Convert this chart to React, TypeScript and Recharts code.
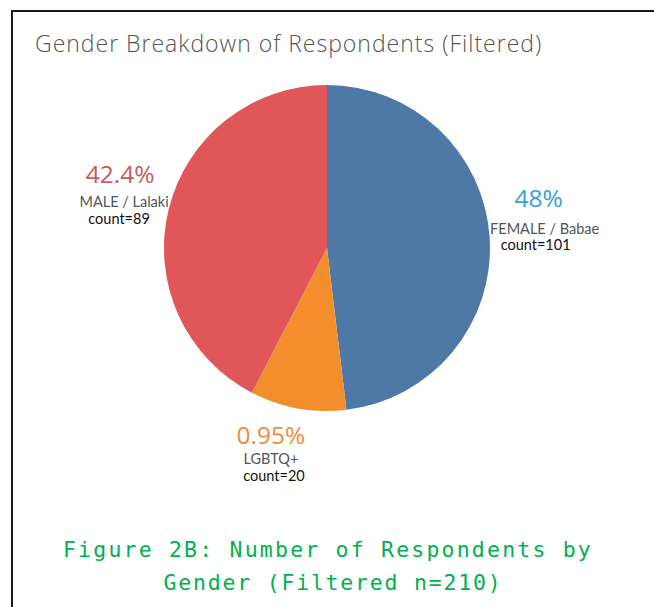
import React from 'react';
import { PieChart, Pie, Cell } from 'recharts';

// ---- data ----
const categories = ['FEMALE / Babae', 'LGBTQ+', 'MALE / Lalaki'];
const counts = [101, 20, 89];
const percentLabels = ['48%', '0.95%', '42.4%'];

// ---- styles / layout ----
const sliceColors = ['#4e79a7', '#f28e2b', '#e15759'];
const percentColors = ['#3a9ed8', '#ef8b3d', '#c75a5a'];
const labelLayout = [
  { dx: -1, dy: -16, nameDx: 6, countDx: -3, gap1: 27, gap2: 16 },
  { dx: -18, dy: -2, nameDx: 0, countDx: 3, gap1: 20.5, gap2: 16.5 },
  { dx: 0, dy: -3, nameDx: 4, countDx: -1, gap1: 24, gap2: 17 },
];

const data = categories.map((name, i) => ({ name, value: counts[i], pct: percentLabels[i] }));

if (typeof document !== 'undefined') {
  document.body.style.margin = '0';
}

const RADIAN = Math.PI / 180;

const renderLabel = (props: any) => {
  const { cx, cy, midAngle, outerRadius, index } = props;
  const r = outerRadius + 50;
  const L = labelLayout[index];
  const x = cx + r * Math.cos(-midAngle * RADIAN) + L.dx;
  const y = cy + r * Math.sin(-midAngle * RADIAN) + L.dy;
  const d = data[index];
  const b0 = y - 12;
  const b1 = b0 + L.gap1;
  const b2 = b1 + L.gap2;
  return (
    <g>
      <text x={x} y={b0} textAnchor="middle" fontFamily="'Open Sans', sans-serif" fontSize={24.5} fill={percentColors[index]}>
        {d.pct}
      </text>
      <text x={x + L.nameDx} y={b1} textAnchor="middle" fontFamily="Lato, sans-serif" fontSize={14.5} fill="#555">
        {d.name}
      </text>
      <text x={x + L.countDx} y={b2} textAnchor="middle" fontFamily="Lato, sans-serif" fontSize={14.5} fill="#111">
        {'count=' + d.value}
      </text>
    </g>
  );
};

export default function App() {
  return (
    <div style={{ position: 'relative', width: 654, height: 607, background: '#fff', overflow: 'hidden' }}>
      <div style={{ position: 'absolute', left: 0, top: 0 }}>
        <PieChart width={654} height={607} margin={{ top: 0, right: 0, bottom: 0, left: 0 }}>
          <Pie
            data={data}
            dataKey="value"
            nameKey="name"
            cx={327}
            cy={248}
            outerRadius={163}
            startAngle={90}
            endAngle={-270}
            stroke="none"
            label={renderLabel}
            labelLine={false}
            isAnimationActive={false}
          >
            {data.map((d, i) => (
              <Cell key={d.name} fill={sliceColors[i]} />
            ))}
          </Pie>
        </PieChart>
      </div>
      <svg width={654} height={607} style={{ position: 'absolute', left: 0, top: 0, pointerEvents: 'none' }}>
        <line x1={11} y1={11} x2={654} y2={11} stroke="#1a1a1a" strokeWidth={2} />
        <line x1={12} y1={10} x2={12} y2={607} stroke="#1a1a1a" strokeWidth={2} />
        <text x={35} y={52} fontFamily="'Open Sans', sans-serif" fontWeight={300} fontSize={23} letterSpacing={1} fill="#555">
          Gender Breakdown of Respondents (Filtered)
        </text>
        <text x={328} y={557} textAnchor="middle" fontFamily="'DejaVu Sans Mono', monospace" fontSize={21.5} letterSpacing={2.2} fill="#00b050">
          Figure 2B: Number of Respondents by
        </text>
        <text x={333} y={590} textAnchor="middle" fontFamily="'DejaVu Sans Mono', monospace" fontSize={21.5} letterSpacing={1.8} fill="#00b050">
          Gender (Filtered n=210)
        </text>
      </svg>
    </div>
  );
}
